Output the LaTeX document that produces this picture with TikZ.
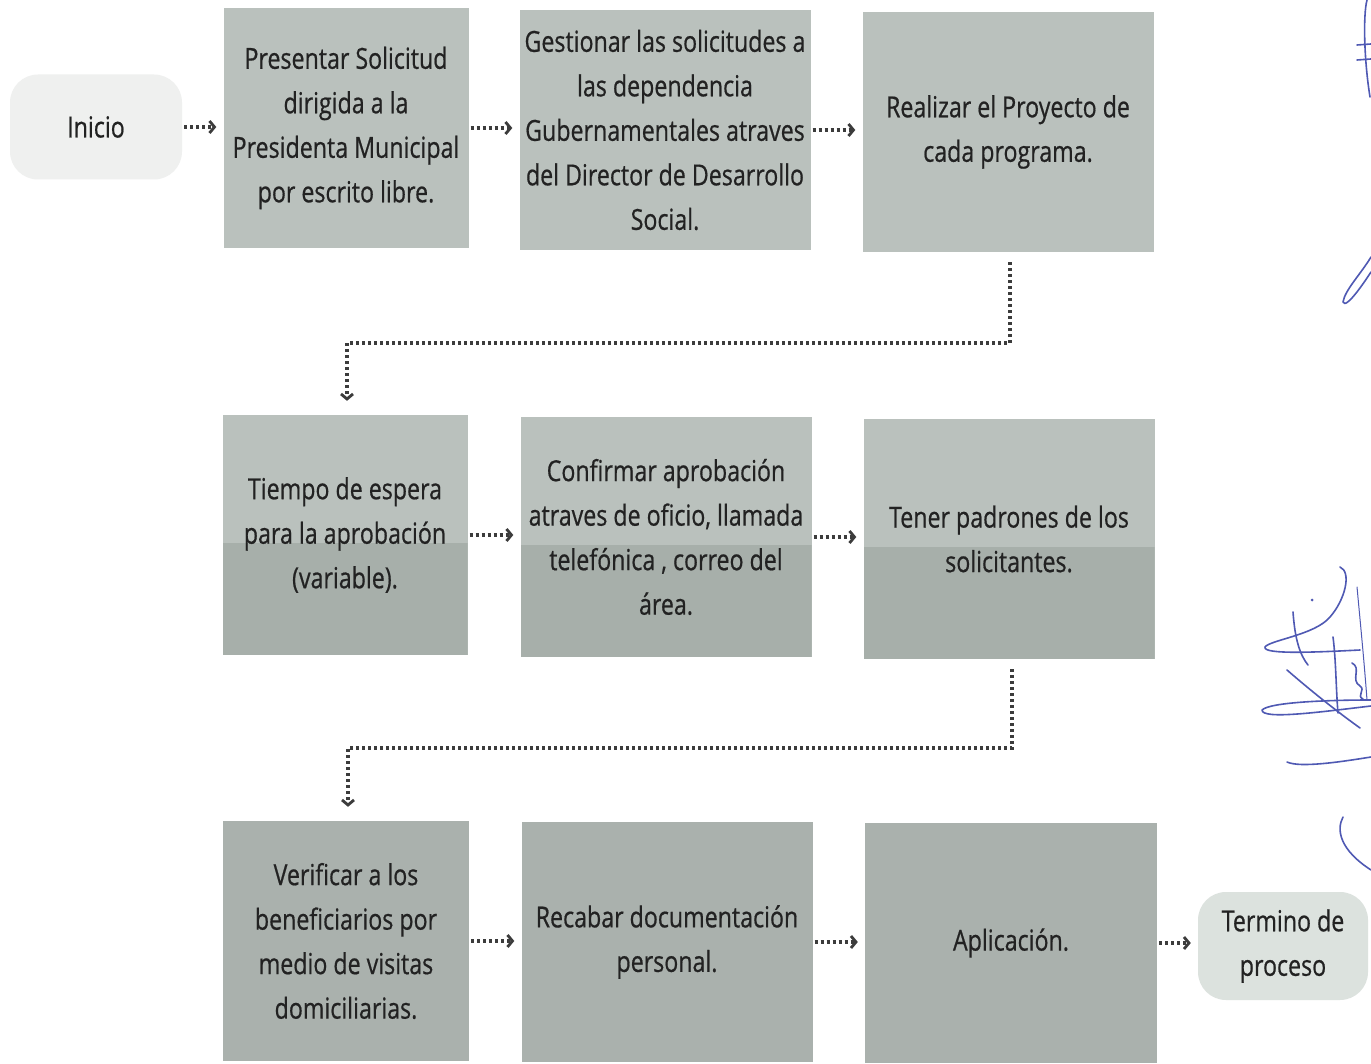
\documentclass[tikz,border=0pt]{standalone}
\usepackage{fontspec}
\setmainfont[FakeStretch=0.80,FakeBold=0.6]{Open Sans}
\usetikzlibrary{arrows.meta,calc}
\definecolor{rowA}{HTML}{BAC1BD}
\definecolor{rowB}{HTML}{A7AFAA}
\definecolor{rowC}{HTML}{AAB1AD}
\definecolor{startc}{HTML}{EFF0EF}
\definecolor{endc}{HTML}{DCE2DE}
\definecolor{ink}{HTML}{222222}
\definecolor{dotc}{HTML}{3C3C3C}
\definecolor{sig}{HTML}{4F59B3}
\begin{document}
\begin{tikzpicture}[x=1pt,y=-1pt,
  txt/.style={font=\fontsize{29}{44.5}\selectfont, text=ink, align=center, inner sep=0pt},
  procbox/.style={txt, fill=rowA, minimum height=240pt},
  twotone/.style={txt, fill=rowA, minimum height=240pt,
     path picture={\fill[rowB] ($(path picture bounding box.south west)+(0,-112)$) rectangle (path picture bounding box.south east);}},
  lowbox/.style={txt, fill=rowC, minimum height=240pt},
  termbox/.style={txt, rounded corners=28pt},
  flow/.style={draw=dotc, line width=3.2pt, dash pattern=on 2.8pt off 3.2pt,
     -{Straight Barb[length=5pt,width=12pt,line width=2.8pt]}, shorten >=7pt, shorten <=2pt},
  sigline/.style={draw=sig, line width=1.6pt, line cap=round, line join=round}
]
\useasboundingbox (0,0) rectangle (1371,1064);
\fill[white] (0,0) rectangle (1371,1064);

% row 1
\node[termbox, fill=startc, minimum width=172pt, minimum height=105pt] (ini) at (96,127) {Inicio};
\node[procbox, minimum width=245pt] (b1) at (346,128) {Presentar Solicitud\\dirigida a la\\Presidenta Municipal\\por escrito libre.};
\node[procbox, minimum width=291pt] (b2) at (665,130) {Gestionar las solicitudes a\\las dependencia\\Gubernamentales atraves\\del Director de Desarrollo\\Social.};
\node[procbox, minimum width=291pt] (b3) at (1008,132) {Realizar el Proyecto de\\cada programa.};

% row 2
\node[twotone, minimum width=245pt] (b4) at (345,535) {Tiempo de espera\\para la aprobación\\(variable).};
\node[twotone, minimum width=291pt] (b5) at (666,537) {Confirmar aprobación\\atraves de oficio, llamada\\telefónica , correo del\\área.};
\node[twotone, minimum width=291pt] (b6) at (1009,539) {Tener padrones de los\\solicitantes.};

% row 3
\node[lowbox, minimum width=246pt] (b7) at (346,941) {Verificar a los\\beneficiarios por\\medio de visitas\\domiciliarias.};
\node[lowbox, minimum width=291pt] (b8) at (667,942) {Recabar documentación\\personal.};
\node[lowbox, minimum width=292pt] (b9) at (1011,943) {Aplicación.};
\node[termbox, fill=endc, minimum width=170pt, minimum height=108pt] (fin) at (1283,946) {Termino de\\proceso};

% horizontal connectors
\draw[flow] (ini.east) -- (ini.east -| b1.west);
\draw[flow] (b1.east) -- (b1.east -| b2.west);
\draw[flow] (b2.east) -- (b2.east -| b3.west);
\draw[flow] (b4.east) -- (b4.east -| b5.west);
\draw[flow] (b5.east) -- (b5.east -| b6.west);
\draw[flow] (b7.east) -- (b7.east -| b8.west);
\draw[flow] (b8.east) -- (b8.east -| b9.west);
\draw[flow] (b9.east) -- (b9.east -| fin.west);

% elbow connectors
\coordinate (m1) at (0,343);
\coordinate (m2) at (0,748);
\draw[flow, shorten <=10pt, shorten >=14pt] ($(b3.south)+(2,0)$) -- ($(b3.south |- m1)+(2,0)$) -- ($(b4.north |- m1)+(2,0)$) -- ($(b4.north)+(2,0)$);
\draw[flow, shorten <=10pt, shorten >=14pt] ($(b6.south)+(3,0)$) -- ($(b6.south |- m2)+(3,0)$) -- ($(b7.north |- m2)+(2,0)$) -- ($(b7.north)+(2,0)$);

% signatures (hand-drawn marks at the right edge)
\draw[sigline] (1367,0) .. controls (1363,15) and (1364,60) .. (1370,97);
\draw[sigline] (1357,45) -- (1371,44);
\draw[sigline] (1357,60) -- (1371,59);
\draw[sigline] (1371,257) .. controls (1360,275) and (1345,290) .. (1343,302) .. controls (1344,306) and (1350,304) .. (1371,272);
\draw[sigline] (1340,567) .. controls (1352,572) and (1345,600) .. (1330,617) .. controls (1315,635) and (1270,640) .. (1265,647) .. controls (1262,655) and (1320,652) .. (1360,650);
\draw[sigline] (1293,612) .. controls (1295,640) and (1300,655) .. (1308,665);
\draw[sigline] (1333,637) .. controls (1336,660) and (1336,690) .. (1338,713);
\draw[sigline] (1287,670) .. controls (1310,690) and (1335,710) .. (1360,728);
\draw[sigline] (1371,700) .. controls (1330,700) and (1270,702) .. (1262,710) .. controls (1262,720) and (1320,712) .. (1371,706);
\draw[sigline] (1352,663) .. controls (1362,668) and (1350,680) .. (1360,686) .. controls (1366,690) and (1356,696) .. (1363,699);
\draw[sigline, line width=1pt] (1357,587) .. controls (1361,630) and (1364,660) .. (1367,700);
\draw[sigline] (1287,762) .. controls (1300,768) and (1340,762) .. (1371,757);
\draw[sigline] (1343,817) .. controls (1336,830) and (1340,850) .. (1371,870);
\fill[sig] (1312,600) circle (1.5pt);
\end{tikzpicture}
\end{document}
